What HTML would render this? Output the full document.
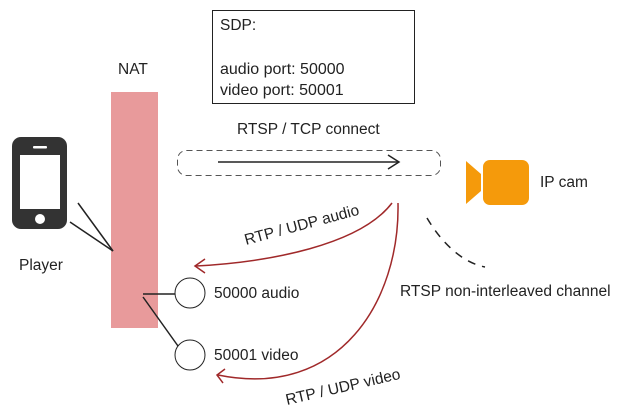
<!DOCTYPE html>
<html><head><meta charset="utf-8"><style>
body{margin:0;background:#fff;}
svg{display:block;font-family:"Liberation Sans","DejaVu Sans",sans-serif;}
text{font-size:15.5px;fill:#222;}
</style></head><body>
<svg width="620" height="416" viewBox="0 0 620 416" xmlns="http://www.w3.org/2000/svg">
<rect x="212.5" y="10.5" width="202" height="93" fill="#fff" stroke="#222" stroke-width="1"/>
<text x="220" y="30">SDP:</text>
<text x="220" y="74" style="font-size:16px">audio port: 50000</text>
<text x="220" y="95" style="font-size:16px">video port: 50001</text>
<text x="118" y="74">NAT</text>
<rect x="111" y="92" width="47" height="236" fill="#e89a9b"/>
<rect x="12" y="137" width="55" height="92" rx="9" fill="#333"/>
<rect x="20" y="155" width="40" height="54" fill="#fff"/>
<rect x="33" y="146" width="14" height="2.5" rx="1" fill="#fff"/>
<circle cx="40" cy="219" r="5" fill="#fff"/>
<text x="19" y="270">Player</text>
<line x1="78" y1="203" x2="113" y2="251" stroke="#222" stroke-width="1.5"/>
<line x1="70" y1="222" x2="113" y2="251" stroke="#222" stroke-width="1.5"/>
<line x1="143" y1="294" x2="175" y2="294" stroke="#222" stroke-width="1.5"/>
<line x1="143" y1="297" x2="178" y2="346" stroke="#222" stroke-width="1.5"/>
<circle cx="190" cy="293" r="15" fill="#fff" stroke="#222"/>
<circle cx="190" cy="355" r="15" fill="#fff" stroke="#222"/>
<text x="214" y="298">50000 audio</text>
<text x="214" y="360">50001 video</text>
<text x="237" y="134">RTSP / TCP connect</text>
<rect x="177.5" y="150.5" width="263" height="25" rx="9" fill="none" stroke="#555" stroke-dasharray="6,4"/>
<line x1="218" y1="162" x2="398" y2="162" stroke="#222" stroke-width="1.5"/>
<path d="M388 155 L399 162 L388 169" fill="none" stroke="#222" stroke-width="1.5"/>
<path d="M466 161 L481 174 L481 191 L466 204 Z" fill="#f59a0b"/>
<rect x="483" y="160" width="46" height="45" rx="7" fill="#f59a0b"/>
<text x="540" y="187">IP cam</text>
<path d="M392 203 C360 245 270 262 196 266" fill="none" stroke="#a0292a" stroke-width="1.5"/>
<path d="M205 259 L195 266 L205 273" fill="none" stroke="#a0292a" stroke-width="1.5"/>
<path d="M398 203 C400 300 340 400 218 375" fill="none" stroke="#a0292a" stroke-width="1.5"/>
<path d="M225 369 L217 375 L223 383" fill="none" stroke="#a0292a" stroke-width="1.5"/>
<path d="M427 218 C440 240 460 262 485 267" fill="none" stroke="#222" stroke-width="1.5" stroke-dasharray="8,7"/>
<text x="400" y="296">RTSP non-interleaved channel</text>
<text transform="translate(246,245) rotate(-15)">RTP / UDP audio</text>
<text transform="translate(287,405) rotate(-13)">RTP / UDP video</text>
</svg>
</body></html>
